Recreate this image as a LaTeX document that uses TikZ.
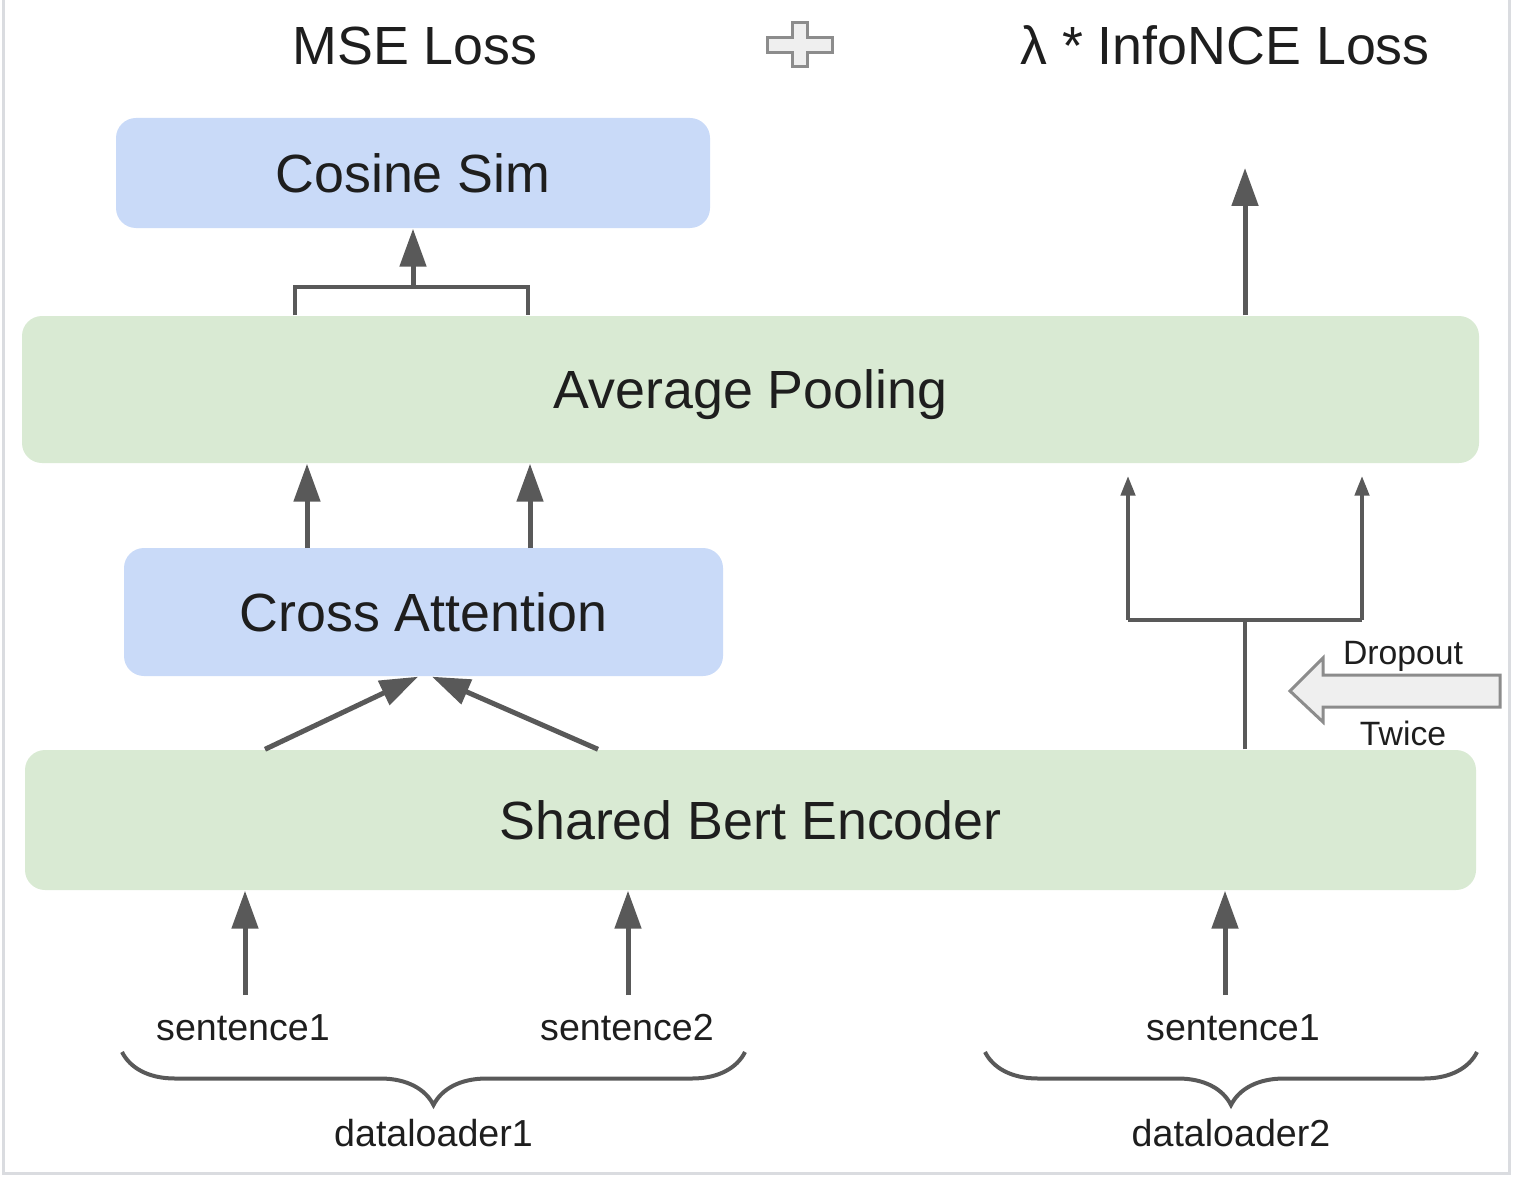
\documentclass[tikz,border=0pt]{standalone}
\usepackage{fontspec}
\setmainfont{Liberation Sans}
\usepackage{xcolor}
\usetikzlibrary{arrows.meta, positioning, calc, decorations.pathreplacing}
\definecolor{boxblue}{HTML}{C9DAF8}
\definecolor{boxgreen}{HTML}{D9EAD3}
\definecolor{arrowgray}{HTML}{595959}
\definecolor{framegray}{HTML}{DADCE0}
\definecolor{textblack}{HTML}{1E1E1E}
\definecolor{plusfill}{HTML}{EFEFEF}
\definecolor{plusgray}{HTML}{8C8C8C}
\tikzset{
    box/.style={rectangle, rounded corners=0.2cm, inner sep=0pt, text centered, font=\fontsize{15.3}{18}\selectfont, text=textblack, text height=11pt, text depth=0pt},
    bluebox/.style={box, fill=boxblue},
    greenbox/.style={box, fill=boxgreen},
    title/.style={inner sep=0pt, font=\fontsize{15.3}{18}\selectfont, text=textblack, text height=11pt, text depth=0pt},
    smalltext/.style={inner sep=0pt, font=\fontsize{10.7}{13}\selectfont, text=textblack, text height=7.7pt, text depth=0pt},
    tinytext/.style={inner sep=0pt, font=\fontsize{9.6}{12}\selectfont, text=textblack, text height=6.9pt, text depth=0pt},
    arrow/.style={line width=0.05cm, draw=arrowgray, -{Triangle[length=0.38cm, width=0.26cm]}},
    thinarrow/.style={line width=0.045cm, draw=arrowgray, -{Triangle[length=0.2cm, width=0.14cm]}},
    link/.style={line width=0.045cm, draw=arrowgray},
    curly/.style={line width=0.04cm, draw=arrowgray, decorate, decoration={brace, mirror, amplitude=0.53cm}}
}

\begin{document}
\begin{tikzpicture}
    \useasboundingbox (0,0) rectangle (15.16,-11.78);
    % Frame
    \draw[framegray, line width=0.03cm] (0.04,0.1) -- (0.04,-11.73) -- (15.09,-11.73) -- (15.09,0.1);

    % Loss titles
    \node (mse_title) [title] at (4.15,-0.45) {MSE Loss};
    \node (nce_title) [title] at (12.25,-0.45) {λ * InfoNCE Loss};
    \draw[plusgray, fill=plusfill, line width=0.03cm] (7.67,-0.38) -- (7.92,-0.38) -- (7.92,-0.23) -- (8.07,-0.23) -- (8.07,-0.38) -- (8.32,-0.38) -- (8.32,-0.53) -- (8.07,-0.53) -- (8.07,-0.67) -- (7.92,-0.67) -- (7.92,-0.53) -- (7.67,-0.53) -- cycle;

    % Boxes
    \node (cosine) [bluebox, minimum width=5.94cm, minimum height=1.10cm] at (4.13,-1.73) {Cosine Sim};
    \node (avgpool) [greenbox, minimum width=14.57cm, minimum height=1.47cm] at (7.505,-3.895) {Average Pooling};
    \node (crossatt) [bluebox, minimum width=5.99cm, minimum height=1.28cm] at (4.235,-6.12) {Cross Attention};
    \node (bert) [greenbox, minimum width=14.51cm, minimum height=1.40cm] at (7.505,-8.20) {Shared Bert Encoder};

    % Pooling to cosine sim
    \coordinate (pool_l) at (2.95,-2.87);
    \coordinate (pool_r) at (5.28,-2.87);
    \draw[link] (pool_l |- avgpool.north) -- (pool_l) -- (pool_r) -- (pool_r |- avgpool.north);
    \draw[arrow] (pool_l -| cosine.south) -- (cosine.south);

    % Cross attention to pooling
    \coordinate (ca_l) at (3.07,-5.48);
    \coordinate (ca_r) at (5.30,-5.48);
    \draw[arrow] (ca_l) -- (ca_l |- avgpool.south);
    \draw[arrow] (ca_r) -- (ca_r |- avgpool.south);

    % Encoder to cross attention
    \draw[arrow] ([xshift=-4.855cm]bert.north) -- ([xshift=-0.055cm]crossatt.south);
    \draw[arrow] ([xshift=-1.525cm]bert.north) -- ([xshift=0.085cm]crossatt.south);

    % Dropout twice branch
    \coordinate (fork) at (12.45,-6.20);
    \coordinate (fork_l) at (11.28,-6.20);
    \coordinate (fork_r) at (13.62,-6.20);
    \draw[link] (fork |- bert.north) -- (fork);
    \draw[link] (fork_l) -- (fork_r);
    \draw[thinarrow, shorten >=0.12cm] (fork_l) -- (fork_l |- avgpool.south);
    \draw[thinarrow, shorten >=0.12cm] (fork_r) -- (fork_r |- avgpool.south);
    \coordinate (nce_out) at (12.45,-1.68);
    \draw[arrow] (nce_out |- avgpool.north) -- (nce_out);

    % Dropout arrow
    \draw[plusgray, fill=plusfill, line width=0.03cm] (15.00,-6.75) -- (13.23,-6.75) -- (13.23,-6.58) -- (12.90,-6.91) -- (13.23,-7.22) -- (13.23,-7.07) -- (15.00,-7.07) -- cycle;
    \node (dropout) [tinytext] at (14.03,-6.52) {Dropout};
    \node (twice) [tinytext] at (14.03,-7.33) {Twice};

    % Inputs
    \node (sent1) [smalltext] at (2.43,-10.27) {sentence1};
    \node (sent2) [smalltext] at (6.27,-10.27) {sentence2};
    \node (sent3) [smalltext] at (12.33,-10.27) {sentence1};
    \coordinate (in1) at (2.45,-9.95);
    \coordinate (in2) at (6.28,-9.95);
    \coordinate (in3) at (12.25,-9.95);
    \draw[arrow] (in1) -- (in1 |- bert.south);
    \draw[arrow] (in2) -- (in2 |- bert.south);
    \draw[arrow] (in3) -- (in3 |- bert.south);

    % Dataloaders
    \draw[curly] (1.22,-10.52) -- (7.45,-10.52);
    \draw[curly] (9.85,-10.52) -- (14.77,-10.52);
    \coordinate (tip1) at (4.335,-11.05);
    \coordinate (tip2) at (12.31,-11.05);
    \node (dl1) [smalltext, below=0.14cm of tip1] {dataloader1};
    \node (dl2) [smalltext, below=0.14cm of tip2] {dataloader2};
\end{tikzpicture}
\end{document}
